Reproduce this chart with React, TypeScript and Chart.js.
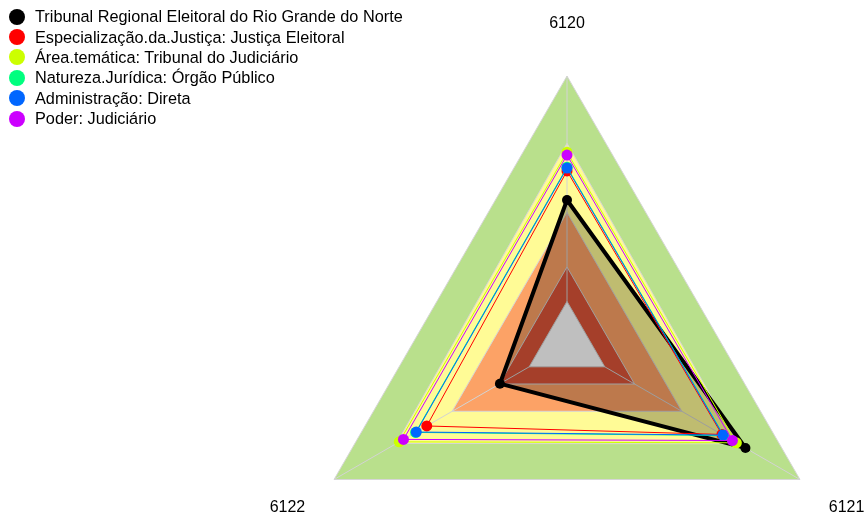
import React, { useEffect, useRef } from "react";
import { Chart, registerables } from "chart.js";

Chart.register(...registerables);

const axisLabels = ["6120", "6121", "6122"];

// background bands (outer to inner)
const bandGreen = [100, 100, 100];
const bandYellow = [75, 73.5, 73.2];
const bandOrange = [49.3, 49.3, 49.3];
const bandRed = [29, 29, 29];
const bandCenter = [16.2, 16.2, 16.2];

// series
const seriesNames = [
  "Tribunal Regional Eleitoral do Rio Grande do Norte",
  "Especialização.da.Justiça: Justiça Eleitoral",
  "Área.temática: Tribunal do Judiciário",
  "Natureza.Jurídica: Órgão Público",
  "Administração: Direta",
  "Poder: Judiciário",
];
const seriesColors = ["#000000", "#FF0000", "#CCFF00", "#00FF7F", "#0066FF", "#CC00FF"];
const tribunal = [53.9, 76.6, 28.8];
const especializacao = [64.7, 66.5, 60.2];
const areaTematica = [71.7, 72.7, 72.0];
const natureza = [66.1, 67.3, 65.0];
const administracao = [65.8, 67.0, 64.7];
const poder = [70.6, 71.0, 70.2];

const FONT = '"Liberation Sans", Arial, sans-serif';

export default function App() {
  const ref = useRef<HTMLCanvasElement | null>(null);

  useEffect(() => {
    if (!ref.current) return;
    const band = (data: number[], color: string, order: number) => ({
      data,
      backgroundColor: color,
      borderColor: "#d6d6d6",
      borderWidth: 1,
      pointRadius: 0,
      fill: "origin" as const,
      order,
    });
    const series = (data: number[], color: string, order: number, black = false) => ({
      data,
      borderColor: color,
      backgroundColor: black ? "rgba(0,0,0,0.25)" : "transparent",
      borderWidth: black ? 4 : 1,
      pointRadius: black ? 5 : 5.5,
      pointBackgroundColor: color,
      pointBorderColor: color,
      pointBorderWidth: 0,
      fill: black ? ("origin" as const) : false,
      order,
    });

    const spokes = {
      id: "spokes",
      afterDatasetDraw(chart: any, args: any) {
        if (args.index !== 3) return;
        const s = chart.scales.r;
        const ctx = chart.ctx;
        ctx.save();
        ctx.strokeStyle = "#d3d3d3";
        ctx.lineWidth = 1;
        for (let i = 0; i < axisLabels.length; i++) {
          const p = s.getPointPosition(i, s.drawingArea);
          ctx.beginPath();
          ctx.moveTo(s.xCenter, s.yCenter);
          ctx.lineTo(p.x, p.y);
          ctx.stroke();
        }
        ctx.restore();
      },
    };
    const labels = {
      id: "axisLabels",
      afterDraw(chart: any) {
        const s = chart.scales.r;
        const ctx = chart.ctx;
        ctx.save();
        ctx.fillStyle = "#000";
        ctx.font = `16px ${FONT}`;
        ctx.textAlign = "center";
        ctx.textBaseline = "middle";
        axisLabels.forEach((l, i) => {
          const p = s.getPointPosition(i, s.getDistanceFromCenterForValue(120));
          ctx.fillText(l, p.x, p.y + 1);
        });
        ctx.restore();
      },
    };

    const chart = new Chart(ref.current, {
      type: "radar",
      data: {
        labels: axisLabels,
        datasets: [
          band(bandGreen, "#B9E08C", 100),
          band(bandYellow, "#FFFB96", 99),
          band(bandOrange, "#FCA266", 98),
          band(bandRed, "#DC5538", 97),
          band(bandCenter, "#FFFFFF", 96),
          series(tribunal, seriesColors[0], 50, true),
          series(especializacao, seriesColors[1], 40),
          series(areaTematica, seriesColors[2], 30),
          series(natureza, seriesColors[3], 20),
          series(administracao, seriesColors[4], 10),
          series(poder, seriesColors[5], 0),
        ] as any,
      },
      options: {
        responsive: false,
        animation: false,
        devicePixelRatio: 1,
        layout: { padding: { left: 298, right: 30, top: 76, bottom: 6 } },
        elements: { line: { tension: 0 } },
        plugins: { legend: { display: false }, tooltip: { enabled: false } },
        scales: {
          r: {
            min: 0,
            max: 100,
            ticks: { display: false },
            grid: { display: false },
            angleLines: { display: false },
            pointLabels: { display: false },
          },
        },
      },
      plugins: [spokes, labels],
    });
    return () => chart.destroy();
  }, []);

  return (
    <div
      style={{
        position: "absolute",
        left: 0,
        top: 0,
        width: 866,
        height: 520,
        overflow: "hidden",
        background: "#fff",
      }}
    >
      <canvas ref={ref} width={866} height={620} style={{ position: "absolute", left: 0, top: 0 }} />
      <div style={{ position: "absolute", left: 9, top: 6.5, fontFamily: FONT, fontSize: 16.3, color: "#000" }}>
        {seriesNames.map((n, i) => (
          <div key={n} style={{ display: "flex", alignItems: "center", height: 20.4, whiteSpace: "nowrap" }}>
            <span
              style={{
                display: "inline-block",
                width: 16,
                height: 16,
                borderRadius: "50%",
                background: seriesColors[i],
                marginRight: 10,
              }}
            />
            <span>{n}</span>
          </div>
        ))}
      </div>
    </div>
  );
}
